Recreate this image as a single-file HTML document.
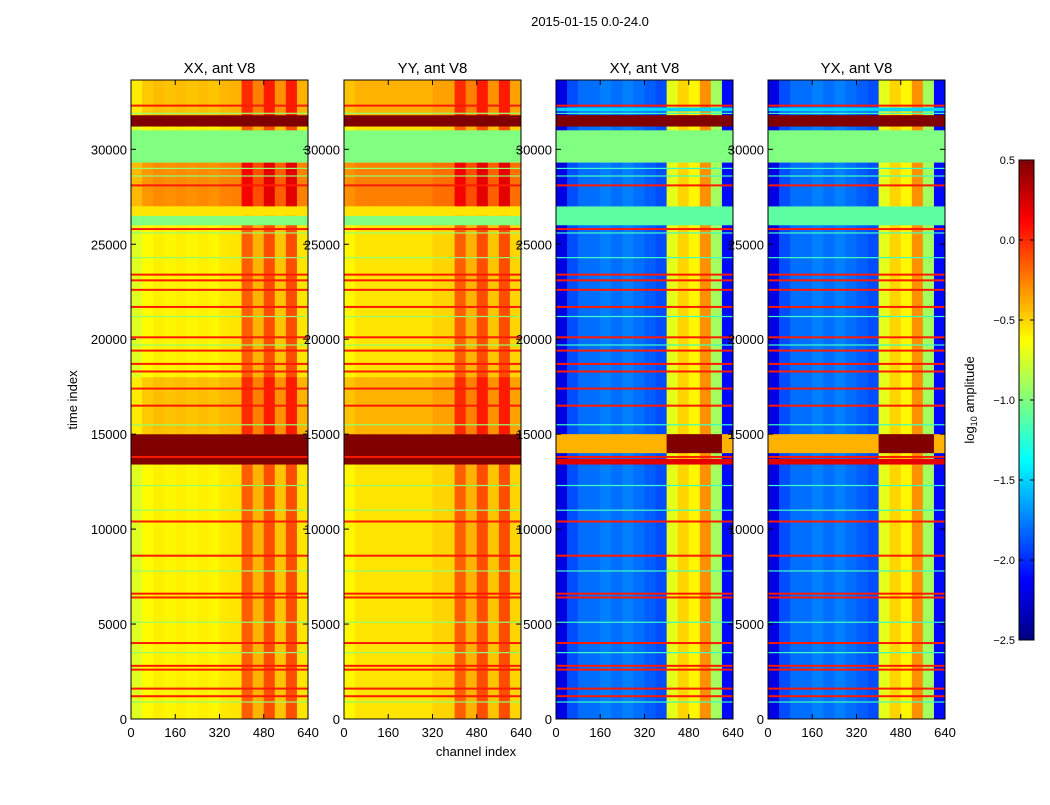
<!DOCTYPE html>
<html><head><meta charset="utf-8"><style>
body{margin:0;background:#fff;}
svg text{font-family:"Liberation Sans",sans-serif;}
</style></head><body>
<svg id="fig" width="1050" height="800" xmlns="http://www.w3.org/2000/svg">
<rect width="1050" height="800" fill="#fff"/>
<text x="590" y="26" font-size="13" text-anchor="middle">2015-01-15 0.0-24.0</text>
<text x="0" y="0" font-size="13" text-anchor="middle" transform="translate(77,400) rotate(-90)">time index</text>
<text x="476" y="756" font-size="13" text-anchor="middle">channel index</text>
<text x="0" y="0" font-size="13" text-anchor="middle" transform="translate(974,400) rotate(-90)">log<tspan font-size="9" dy="3">10</tspan><tspan dy="-3"> amplitude</tspan></text>
<g id="panels"></g>
<g id="cbar"></g>
</svg>
<script>
const panelTitles=["XX, ant V8","YY, ant V8","XY, ant V8","YX, ant V8"];
const panelX=[131,344,556,768];
const xTicks=[0,160,320,480,640];
const yTicks=[0,5000,10000,15000,20000,25000,30000];
const cbTicks=[0.5,0.0,-0.5,-1.0,-1.5,-2.0,-2.5];
const colBins=[0,40,80,120,160,200,240,280,320,360,400,440,480,520,560,600,640];
const profXX=[-0.72,-0.62,-0.58,-0.6,-0.58,-0.6,-0.58,-0.6,-0.56,-0.55,-0.15,-0.4,-0.1,-0.45,-0.1,-0.55];
const profYY=[-0.6,-0.55,-0.55,-0.55,-0.55,-0.55,-0.55,-0.55,-0.5,-0.5,-0.15,-0.4,-0.1,-0.45,-0.1,-0.5];
const profXY=[-2.2,-1.9,-1.8,-1.8,-1.75,-1.8,-1.75,-1.8,-1.85,-1.9,-0.7,-0.5,-0.6,-0.3,-0.9,-2.1];
const profYX=[-2.2,-1.9,-1.8,-1.8,-1.75,-1.8,-1.75,-1.8,-1.85,-1.9,-0.7,-0.5,-0.6,-0.3,-0.9,-2.1];
// [t0,t1,value,mode] mode 0 = set full width, 1 = add to column profile
const bandsPar=[[26000,26500,-1.0,0],[26500,27000,-0.55,0],[27000,29300,0.3,1],[29300,31000,-1.0,0],[31200,31800,0.5,0],[13400,15000,0.5,0],[15000,18000,0.15,1],[31800,33650,0.15,1]];
const bandsCross=[[26000,27000,-1.1,0],[27000,29300,0,1],[29300,31000,-1.0,0],[31200,31800,0.5,0],[13400,13700,0.2,0],[14000,15000,-0.4,0],[32000,32200,-1.5,0]];
const redLines=[1200,1600,2600,2800,4000,6400,6600,8600,10400,13800,16500,17400,18300,18700,19400,20100,21700,22600,23100,23400,25800,28100,32300];
const cyanLines=[900,3500,5100,7800,11000,12300,15500,19700,21200,24300,25600,28600,29000,31900];
const panelProfiles=[profXX,profYY,profXY,profYX];
const panelBands=[bandsPar,bandsPar,bandsCross,bandsCross];

const NS="http://www.w3.org/2000/svg";
const PW=177,PT=80,PB=719,TMAX=33650;
function jet(v){let t=(v+2.5)/3;t=Math.max(0,Math.min(1,t));
 const f=x=>Math.max(0,Math.min(1,x));
 const r=f(Math.min(4*t-1.5,-4*t+4.5)),g=f(Math.min(4*t-0.5,-4*t+3.5)),b=f(Math.min(4*t+0.5,-4*t+2.5));
 return `rgb(${Math.round(r*255)},${Math.round(g*255)},${Math.round(b*255)})`;}
function el(tag,a,p){const e=document.createElementNS(NS,tag);for(const k in a)e.setAttribute(k,a[k]);p.appendChild(e);return e;}
const yS=t=>PB-(t/TMAX)*(PB-PT);
const panels=document.getElementById('panels');
panelTitles.forEach((title,pi)=>{
 const x0=panelX[pi];const xS=c=>x0+c/640*PW;
 const g=el('g',{},panels);
 
 
 const prof=panelProfiles[pi];
 for(let i=0;i<prof.length;i++){
  const r=el('rect',{x:xS(colBins[i]),y:PT,width:xS(colBins[i+1])-xS(colBins[i])+0.5,height:PB-PT,fill:jet(prof[i])},g);
  
  
 }
 panelBands[pi].forEach(b=>{
  if(b[3]===1){
   for(let i=0;i<prof.length;i++){
    const r=el('rect',{x:xS(colBins[i]),y:yS(b[1]),width:xS(colBins[i+1])-xS(colBins[i])+0.5,height:yS(b[0])-yS(b[1]),fill:jet(prof[i]+b[2])},g);
    
    
   }
   return;
  }
  const r=el('rect',{x:x0,y:yS(b[1]),width:PW,height:yS(b[0])-yS(b[1]),fill:jet(b[2])},g);
  
  
  if(pi>=2&&b[0]==14000){
   const r2=el('rect',{x:xS(400),y:yS(b[1]),width:xS(600)-xS(400),height:yS(b[0])-yS(b[1]),fill:jet(0.5)},g);
   
   
  }
 });
 redLines.forEach(t=>{const r=el('rect',{x:x0,y:yS(t)-1,width:PW,height:2,fill:jet(0.05)},g);
  
  });
 cyanLines.forEach(t=>{const r=el('rect',{x:x0,y:yS(t)-0.5,width:PW,height:1.2,fill:jet(pi<2?-0.95:-1.2)},g);
  
  });
 const fr=el('rect',{x:x0,y:PT,width:PW,height:PB-PT,fill:'none',stroke:'#000','stroke-width':1},g);
 
 
 const tt=el('text',{x:x0+PW/2,y:73,'font-size':15,'text-anchor':'middle'},g);tt.textContent=title;
 
 
 xTicks.forEach(v=>{const x=xS(v);
  el('line',{x1:x,x2:x,y1:PB,y2:PB-5,stroke:'#000'},g);el('line',{x1:x,x2:x,y1:PT,y2:PT+5,stroke:'#000'},g);
  const t=el('text',{x:x,y:737,'font-size':13,'text-anchor':'middle'},g);t.textContent=v;
  
  });
 yTicks.forEach(v=>{const y=yS(v);
  el('line',{x1:x0,x2:x0+5,y1:y,y2:y,stroke:'#000'},g);el('line',{x1:x0+PW,x2:x0+PW-5,y1:y,y2:y,stroke:'#000'},g);
  const t=el('text',{x:x0-4,y:y+5,'font-size':13,'text-anchor':'end'},g);t.textContent=v;
  
  });
});
const cb=document.getElementById('cbar');


const CX=1019,CW=15,CT=160,CB=640;
const cy=v=>CB-(v+2.5)/3*(CB-CT);
for(let i=0;i<120;i++){const v0=-2.5+3*i/120,v1=-2.5+3*(i+1)/120;
 const r=el('rect',{x:CX,y:cy(v1),width:CW,height:cy(v0)-cy(v1)+0.5,fill:jet((v0+v1)/2)},cb);
 
 }
el('rect',{x:CX,y:CT,width:CW,height:CB-CT,fill:'none',stroke:'#000'},cb);
cbTicks.forEach(v=>{const y=cy(v);
 el('line',{x1:CX,x2:CX+4,y1:y,y2:y,stroke:'#000'},cb);el('line',{x1:CX+CW,x2:CX+CW-4,y1:y,y2:y,stroke:'#000'},cb);
 const t=el('text',{x:CX-4,y:y+4,'font-size':11,'text-anchor':'end'},cb);t.textContent=(v<0?'\u2212':'')+Math.abs(v).toFixed(1);
 
 });
</script>
</body></html>
